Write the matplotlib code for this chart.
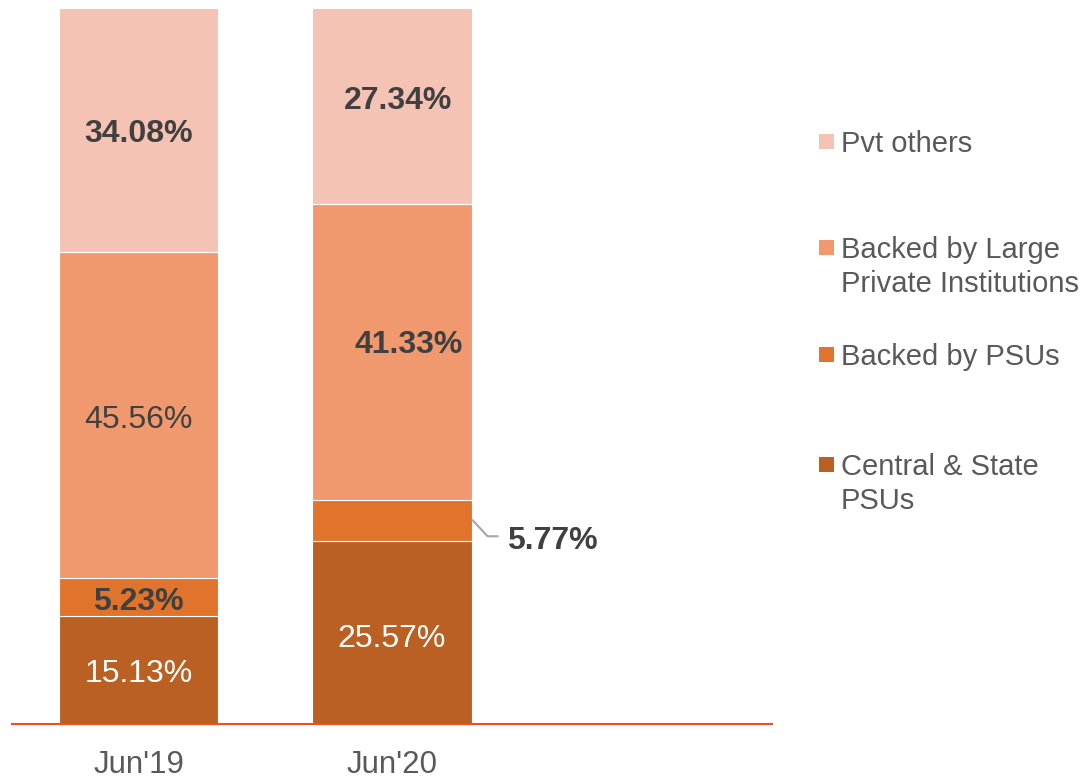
import matplotlib
matplotlib.use("Agg")
import matplotlib.pyplot as plt
from matplotlib.patches import Rectangle
from matplotlib.lines import Line2D
from matplotlib.transforms import IdentityTransform

categories = ["Jun'19", "Jun'20"]
series_names = ["Central & State\nPSUs", "Backed by PSUs",
                "Backed by Large\nPrivate Institutions", "Pvt others"]
central_state = [15.13, 25.57]
backed_psus = [5.23, 5.77]
backed_large = [45.56, 41.33]
pvt_others = [34.08, 27.34]

colors = ["#BA6023", "#E0742D", "#F0996F", "#F5C3B3"]

plt.rcParams['font.family'] = ['Liberation Sans', 'DejaVu Sans']

W, H = 1084, 779
fig = plt.figure(figsize=(W / 100, H / 100), dpi=100)
ax = fig.add_axes([12 / W, 55 / H, 760 / W, 716 / H])

x = [0, 1]
bw = 159 / 253
data = [central_state, backed_psus, backed_large, pvt_others]
bottom = [0.0, 0.0]
bars = []
for vals, c in zip(data, colors):
    ax.bar(x, vals, bw, bottom=bottom, color=c, edgecolor='white', linewidth=0.8)
    bars.append((vals, list(bottom)))
    bottom = [bt + v for bt, v in zip(bottom, vals)]

ax.set_xlim(-0.5, 2.5)
ax.set_ylim(0, 100)
for s in ['top', 'right', 'left']:
    ax.spines[s].set_visible(False)
ax.spines['bottom'].set_color('#F04E23')
ax.spines['bottom'].set_linewidth(1.5)
ax.set_yticks([])
ax.set_xticks(x)
ax.set_xticklabels(categories, fontsize=22.5, color='#595959')
ax.tick_params(axis='x', length=0, pad=19)

dark = '#404040'
# label styles per (series, category): (color, weight, dx_px, dy_px)
styles = {
    (0, 0): ('white', 'normal', 0, -4),
    (0, 1): ('white', 'normal', 0, -7),
    (1, 0): (dark, 'bold', 0, -5),
    (2, 0): (dark, 'normal', 0, -5),
    (2, 1): (dark, 'bold', 17, 7),
    (3, 0): (dark, 'bold', 0, -4),
    (3, 1): (dark, 'bold', 6, 5),
}
px_x = 1 / 253
px_y = 100 / 716
for si, (vals, bots) in enumerate(bars):
    for ci in range(2):
        if (si, ci) not in styles:
            continue
        col, wt, dx, dy = styles[(si, ci)]
        yc = bots[ci] + vals[ci] / 2
        ax.text(x[ci] + dx * px_x, yc + dy * px_y, f"{vals[ci]:.2f}%",
                ha='center', va='center', fontsize=23, color=col, fontweight=wt)

# outside label for Backed by PSUs, Jun'20 with leader line
vals, bots = bars[1]
yc = bots[1] + vals[1] / 2
xe = x[1] + bw / 2
fig.canvas.draw()
px0, py0 = ax.transData.transform((xe, yc))
line = Line2D([px0 + 1, px0 + 16, px0 + 26], [py0, py0 - 16, py0 - 16],
              transform=IdentityTransform(), color='#A6A6A6', linewidth=1.5)
fig.add_artist(line)
fig.text((px0 + 35) / W, (py0 - 21) / H, f"{vals[1]:.2f}%", ha='left', va='center',
         fontsize=23, color=dark, fontweight='bold')

# legend (manual)
leg_items = [("Pvt others", colors[3], 152),
             ("Backed by Large\nPrivate Institutions", colors[2], 258),
             ("Backed by PSUs", colors[1], 365),
             ("Central & State\nPSUs", colors[0], 475)]
for label, c, base in leg_items:
    fig.add_artist(Rectangle((819 / W, 1 - (base - 3) / H), 15 / W, 15 / H,
                             transform=fig.transFigure, color=c, lw=0))
    for i, ln in enumerate(label.split("\n")):
        fig.text(841 / W, 1 - (base + 34 * i) / H, ln, ha='left', va='baseline',
                 fontsize=21, color='#595959')

fig.savefig("out.png", dpi=100)
